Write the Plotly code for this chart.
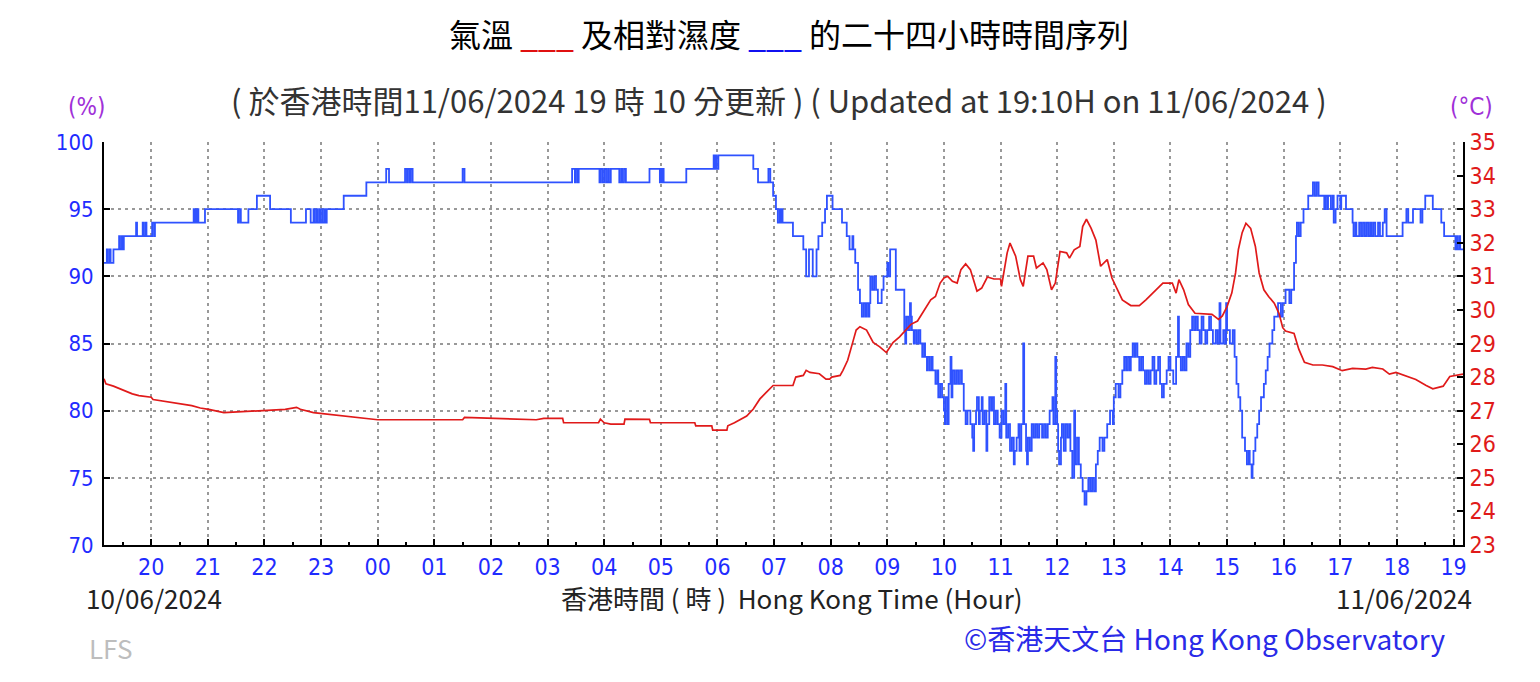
import plotly.graph_objects as go

# ---------------- data ----------------
hum_times = [
    "19:10", "19:13", "19:14", "19:16", "19:17", "19:20", "19:26", "19:27", "19:29", "19:30",
    "19:31", "19:44", "19:45", "19:51", "19:52", "19:54", "19:55", "20:01", "20:03", "20:04",
    "20:45", "20:46", "20:47", "20:48", "20:49", "20:50", "20:57", "21:32", "21:33", "21:35",
    "21:43", "21:52", "22:06", "22:28", "22:44", "22:49", "22:52", "22:53", "22:55", "22:56",
    "22:58", "22:59", "23:01", "23:02", "23:04", "23:05", "23:06", "23:24", "23:48", "00:09",
    "00:12", "00:29", "00:31", "00:32", "00:34", "00:35", "00:37", "01:30", "01:32", "03:26",
    "03:29", "03:30", "03:32", "03:33", "03:55", "03:56", "03:58", "04:00", "04:02", "04:04",
    "04:05", "04:07", "04:16", "04:18", "04:19", "04:21", "04:23", "04:48", "04:59", "05:00",
    "05:01", "05:02", "05:03", "05:27", "05:56", "05:57", "05:58", "05:59", "06:01", "06:38",
    "06:43", "06:54", "06:56", "06:59", "07:02", "07:04", "07:06", "07:07", "07:08", "07:09",
    "07:20", "07:31", "07:34", "07:37", "07:41", "07:45", "07:47", "07:51", "07:54", "07:56",
    "08:02", "08:12", "08:17", "08:20", "08:23", "08:24", "08:26", "08:29", "08:31", "08:33",
    "08:35", "08:37", "08:38", "08:40", "08:41", "08:42", "08:44", "08:46", "08:48", "08:50",
    "08:54", "08:56", "09:00", "09:01", "09:03", "09:09", "09:18", "09:19", "09:20", "09:22",
    "09:24", "09:25", "09:26", "09:28", "09:29", "09:31", "09:33", "09:35", "09:37", "09:39",
    "09:40", "09:42", "09:43", "09:45", "09:47", "09:48", "09:51", "09:53", "09:54", "09:56",
    "09:58", "10:00", "10:01", "10:02", "10:04", "10:05", "10:07", "10:08", "10:09", "10:11",
    "10:13", "10:15", "10:17", "10:19", "10:21", "10:23", "10:25", "10:28", "10:30", "10:31",
    "10:32", "10:34", "10:35", "10:37", "10:38", "10:40", "10:41", "10:43", "10:45", "10:46",
    "10:48", "10:50", "10:51", "10:53", "10:55", "10:57", "10:59", "11:01", "11:03", "11:05",
    "11:06", "11:08", "11:10", "11:12", "11:14", "11:15", "11:17", "11:19", "11:20", "11:22",
    "11:24", "11:25", "11:27", "11:28", "11:29", "11:31", "11:33", "11:35", "11:37", "11:39",
    "11:41", "11:44", "11:46", "11:48", "11:50", "11:52", "11:55", "11:56", "11:58", "11:59",
    "12:00", "12:01", "12:02", "12:04", "12:05", "12:07", "12:09", "12:11", "12:13", "12:14",
    "12:16", "12:18", "12:19", "12:21", "12:23", "12:25", "12:27", "12:29", "12:31", "12:33",
    "12:35", "12:37", "12:39", "12:41", "12:43", "12:45", "12:48", "12:50", "12:53", "12:56",
    "12:59", "13:00", "13:02", "13:05", "13:07", "13:09", "13:11", "13:13", "13:15", "13:17",
    "13:18", "13:20", "13:22", "13:23", "13:25", "13:27", "13:29", "13:31", "13:33", "13:35",
    "13:37", "13:39", "13:41", "13:43", "13:45", "13:47", "13:49", "13:51", "13:53", "13:56",
    "13:58", "14:00", "14:03", "14:06", "14:08", "14:09", "14:11", "14:13", "14:15", "14:17",
    "14:19", "14:21", "14:23", "14:25", "14:27", "14:29", "14:31", "14:33", "14:35", "14:37",
    "14:39", "14:41", "14:43", "14:45", "14:48", "14:50", "14:52", "14:53", "14:56", "14:58",
    "14:59", "15:00", "15:03", "15:06", "15:08", "15:10", "15:12", "15:14", "15:16", "15:19",
    "15:21", "15:23", "15:24", "15:26", "15:27", "15:28", "15:30", "15:32", "15:34", "15:36",
    "15:39", "15:41", "15:43", "15:45", "15:48", "15:50", "15:54", "15:57", "15:59", "16:02",
    "16:06", "16:08", "16:11", "16:13", "16:14", "16:16", "16:18", "16:21", "16:26", "16:31",
    "16:33", "16:35", "16:37", "16:43", "16:44", "16:46", "16:47", "16:50", "16:52", "16:53",
    "16:55", "16:57", "17:00", "17:01", "17:06", "17:13", "17:14", "17:16", "17:17", "17:20",
    "17:22", "17:24", "17:26", "17:28", "17:30", "17:32", "17:33", "17:35", "17:37", "17:40",
    "17:42", "17:45", "17:47", "17:49", "18:06", "18:10", "18:12", "18:17", "18:25", "18:27",
    "18:30", "18:38", "18:47", "18:50", "19:02", "19:03", "19:04", "19:06", "19:07", "19:10",
]
hum_values = [
    91, 92, 91, 92, 91, 92, 93, 92, 93, 92,
    93, 94, 93, 94, 93, 94, 93, 94, 93, 94,
    95, 94, 95, 94, 95, 94, 95, 94, 95, 94,
    95, 96, 95, 94, 95, 94, 95, 94, 95, 94,
    95, 94, 95, 94, 95, 94, 95, 96, 97, 98,
    97, 98, 97, 98, 97, 98, 97, 98, 97, 98,
    97, 98, 97, 98, 97, 98, 97, 98, 97, 98,
    97, 98, 97, 98, 97, 98, 97, 98, 97, 98,
    97, 98, 97, 98, 99, 98, 99, 98, 99, 98,
    97, 98, 97, 96, 95, 94, 95, 94, 95, 94,
    93, 92, 90, 92, 90, 92, 93, 94, 95, 96,
    95, 94, 93, 92, 93, 92, 91, 89, 88, 87,
    88, 87, 88, 87, 88, 90, 89, 90, 89, 88,
    89, 90, 91, 90, 92, 89, 86, 85, 87, 86,
    88, 87, 86, 85, 86, 85, 86, 85, 84, 85,
    84, 83, 84, 83, 84, 83, 82, 83, 81, 82,
    81, 80, 79, 81, 79, 82, 84, 81, 83, 82,
    83, 82, 83, 82, 80, 79, 80, 79, 78, 77,
    79, 80, 81, 79, 80, 81, 79, 80, 77, 79,
    81, 80, 81, 79, 80, 79, 78, 80, 79, 82,
    78, 79, 77, 78, 76, 77, 78, 79, 77, 79,
    85, 79, 77, 76, 78, 77, 79, 78, 79, 78,
    79, 78, 79, 78, 79, 80, 81, 79, 84, 80,
    79, 77, 76, 78, 79, 77, 79, 78, 79, 77,
    75, 80, 76, 78, 76, 75, 74, 73, 74, 75,
    74, 75, 74, 76, 77, 78, 77, 78, 79, 80,
    79, 81, 82, 81, 82, 83, 84, 83, 84, 83,
    84, 85, 84, 85, 84, 83, 84, 83, 82, 83,
    82, 83, 84, 82, 83, 84, 82, 81, 82, 83,
    84, 83, 82, 84, 87, 84, 83, 84, 83, 85,
    84, 86, 87, 86, 87, 86, 85, 87, 86, 85,
    86, 87, 86, 85, 86, 85, 88, 85, 86, 85,
    88, 86, 85, 86, 84, 82, 81, 80, 78, 77,
    76, 77, 76, 75, 76, 77, 78, 79, 80, 81,
    82, 83, 84, 85, 86, 87, 88, 87, 88, 89,
    88, 89, 91, 93, 94, 93, 94, 95, 96, 97,
    96, 97, 96, 95, 96, 95, 96, 95, 96, 94,
    95, 96, 95, 96, 95, 94, 93, 94, 93, 94,
    93, 94, 93, 94, 93, 94, 93, 94, 93, 94,
    93, 94, 95, 93, 94, 95, 94, 95, 94, 95,
    96, 95, 94, 93, 92, 93, 92, 93, 92, 92,
]

temp_times = [
    "19:10", "19:12", "19:20", "19:28", "19:40", "19:47", "20:00", "20:02", "20:29", "20:43",
    "20:52", "21:01", "21:17", "22:22", "22:34", "22:38", "22:52", "23:38", "00:00", "01:30",
    "01:32", "02:48", "02:56", "03:16", "03:17", "03:54", "03:56", "04:00", "04:07", "04:21",
    "04:22", "04:48", "04:49", "05:36", "05:37", "05:54", "05:55", "06:10", "06:11", "06:18",
    "06:31", "06:38", "06:45", "06:52", "06:59", "07:20", "07:23", "07:31", "07:34", "07:38",
    "07:48", "07:55", "07:59", "08:01", "08:10", "08:13", "08:18", "08:24", "08:27", "08:31",
    "08:38", "08:45", "08:52", "08:59", "09:06", "09:13", "09:20", "09:25", "09:32", "09:39",
    "09:46", "09:51", "09:56", "10:00", "10:04", "10:09", "10:14", "10:18", "10:23", "10:28",
    "10:35", "10:40", "10:46", "10:53", "11:00", "11:01", "11:07", "11:10", "11:16", "11:21",
    "11:24", "11:29", "11:35", "11:38", "11:45", "11:49", "11:54", "11:58", "12:03", "12:10",
    "12:13", "12:18", "12:24", "12:27", "12:31", "12:36", "12:41", "12:46", "12:53", "12:58",
    "13:04", "13:09", "13:18", "13:27", "13:34", "13:41", "13:52", "14:02", "14:06", "14:09",
    "14:14", "14:19", "14:26", "14:44", "14:51", "14:55", "15:00", "15:05", "15:09", "15:12",
    "15:16", "15:20", "15:25", "15:30", "15:34", "15:39", "15:44", "15:50", "15:55", "15:59",
    "16:02", "16:11", "16:16", "16:22", "16:31", "16:41", "16:52", "17:02", "17:13", "17:27",
    "17:34", "17:45", "17:52", "17:59", "18:10", "18:20", "18:31", "18:38", "18:49", "18:56",
    "19:10",
]
temp_values = [
    27.95, 27.80, 27.73, 27.63, 27.50, 27.45, 27.40, 27.33, 27.20, 27.15,
    27.08, 27.04, 26.94, 27.04, 27.10, 27.04, 26.94, 26.80, 26.73, 26.73,
    26.80, 26.73, 26.77, 26.77, 26.64, 26.64, 26.75, 26.64, 26.60, 26.60,
    26.75, 26.74, 26.64, 26.64, 26.55, 26.55, 26.42, 26.42, 26.55, 26.64,
    26.84, 27.05, 27.35, 27.55, 27.75, 27.75, 28.00, 28.05, 28.20, 28.14,
    28.10, 27.94, 27.94, 28.00, 28.05, 28.20, 28.50, 29.10, 29.40, 29.50,
    29.40, 29.03, 28.90, 28.73, 29.03, 29.20, 29.40, 29.57, 29.67, 30.00,
    30.30, 30.40, 30.80, 30.95, 31.00, 30.85, 30.80, 31.20, 31.37, 31.20,
    30.56, 30.65, 30.98, 30.92, 30.92, 30.70, 31.70, 31.99, 31.60, 30.90,
    30.70, 31.60, 31.60, 31.25, 31.40, 31.20, 30.60, 30.80, 31.74, 31.70,
    31.54, 31.79, 31.89, 32.48, 32.70, 32.43, 32.08, 31.30, 31.50, 30.95,
    30.60, 30.30, 30.13, 30.13, 30.30, 30.50, 30.80, 30.80, 30.50, 30.90,
    30.60, 30.16, 29.90, 29.87, 29.72, 29.82, 30.10, 30.50, 31.10, 31.80,
    32.30, 32.58, 32.43, 31.89, 31.10, 30.60, 30.40, 30.20, 29.90, 29.47,
    29.37, 29.30, 28.83, 28.44, 28.36, 28.36, 28.31, 28.19, 28.26, 28.24,
    28.29, 28.24, 28.09, 28.14, 28.04, 27.93, 27.75, 27.65, 27.73, 28.02,
    28.09,
]

hour_ticks_start = "2024-06-10 20:00"
x_range = ["2024-06-10 19:10", "2024-06-11 19:10"]

title_text = ('氣溫 <span style="color:#e01010">___</span> 及相對濕度 '
              '<span style="color:#1010f0">___</span> 的二十四小時時間序列')
subtitle_text = "( 於香港時間11/06/2024 19 時 10 分更新 ) ( Updated at 19:10H on 11/06/2024 )"
xaxis_title = "香港時間 ( 時 )  Hong Kong Time (Hour)"
date_left = "10/06/2024"
date_right = "11/06/2024"
credit_text = "©香港天文台 Hong Kong Observatory"
unit_left = "(%)"
unit_right = "(°C)"
code_text = "LFS"


def to_datetimes(times):
    out, day, prev = [], 10, None
    for t in times:
        h, m = map(int, t.split(":"))
        mins = h * 60 + m
        if prev is not None and mins < prev:
            day = 11
        prev = mins
        out.append(f"2024-06-{day:02d} {t}")
    return out


assert len(hum_times) == len(hum_values)
assert len(temp_times) == len(temp_values)

HUM_COLOR = "#2f52ff"
TEMP_COLOR = "#e01a1a"
TICK_FONT = "Liberation Sans Narrow, DejaVu Sans Condensed, Arial Narrow, sans-serif"
CJK_FONT = "Noto Sans CJK TC, Noto Sans, sans-serif"
GRID = "#999999"

fig = go.Figure()
fig.add_trace(go.Scatter(
    x=to_datetimes(hum_times), y=hum_values, mode="lines",
    line=dict(color=HUM_COLOR, width=1.8, shape="hv"), yaxis="y", name="RH",
))
fig.add_trace(go.Scatter(
    x=to_datetimes(temp_times), y=temp_values, mode="lines",
    line=dict(color=TEMP_COLOR, width=1.7), yaxis="y2", name="T",
))

L, R, T, B = 104, 1463, 142, 545
W, H = 1540, 682


def px(x):
    return (x - L) / (R - L)


def py(y):
    return (B - y) / (B - T)


fig.update_layout(
    width=W, height=H,
    margin=dict(l=L, r=W - R, t=T, b=H - B, pad=0),
    paper_bgcolor="white", plot_bgcolor="white",
    showlegend=False,
    xaxis=dict(
        type="date", range=x_range, tickformat="%H",
        tick0=hour_ticks_start, dtick=3600000,
        ticks="inside", ticklen=6, tickwidth=1.5, tickcolor="black",
        showgrid=True, gridcolor=GRID, gridwidth=1.5, griddash="3px,4px",
        showline=True, linecolor="black", linewidth=2,
        tickfont=dict(family=TICK_FONT, size=23, color="#1f2cff"),
        minor=dict(tick0=hour_ticks_start, dtick=1800000, ticks="inside",
                   ticklen=3, tickcolor="black", showgrid=False),
        zeroline=False,
    ),
    yaxis=dict(
        range=[70, 100], dtick=5, ticks="inside", ticklen=6, tickwidth=1.5,
        tickcolor="black", ticklabelstandoff=4,
        showgrid=True, gridcolor=GRID, gridwidth=1.5, griddash="3px,4px",
        showline=True, linecolor="black", linewidth=2,
        tickfont=dict(family=TICK_FONT, size=22, color="#1f2cff"),
        zeroline=False,
    ),
    yaxis2=dict(
        range=[23, 35], dtick=1, overlaying="y", side="right",
        ticks="inside", ticklen=6, tickwidth=1.5, tickcolor="black",
        showgrid=False, showline=True, linecolor="black", linewidth=2,
        tickfont=dict(family=TICK_FONT, size=23, color="#e01a1a"),
        zeroline=False,
    ),
)

ann = [
    dict(text=title_text, x=px(789), y=py(33), xanchor="center", yanchor="middle",
         font=dict(family=CJK_FONT, size=32, color="black")),
    dict(text=subtitle_text, x=px(779), y=py(100), xanchor="center", yanchor="middle",
         font=dict(family=CJK_FONT, size=31, color="#333333")),
    dict(text=unit_left, x=px(86), y=py(107), xanchor="center", yanchor="middle",
         font=dict(family=TICK_FONT, size=24, color="#a030d8")),
    dict(text=unit_right, x=px(1471), y=py(107), xanchor="center", yanchor="middle",
         font=dict(family=TICK_FONT, size=24, color="#a030d8")),
    dict(text=date_left, x=px(84), y=py(597), xanchor="left", yanchor="middle",
         font=dict(family=CJK_FONT, size=26, color="#222222")),
    dict(text=date_right, x=px(1474), y=py(597), xanchor="right", yanchor="middle",
         font=dict(family=CJK_FONT, size=26, color="#222222")),
    dict(text=xaxis_title, x=px(792), y=py(597), xanchor="center", yanchor="middle",
         font=dict(family=CJK_FONT, size=26, color="#222222")),
    dict(text=code_text, x=px(87), y=py(647), xanchor="left", yanchor="middle",
         font=dict(family=CJK_FONT, size=26, color="#bdbdbd")),
    dict(text=credit_text, x=px(1448), y=py(638), xanchor="right", yanchor="middle",
         font=dict(family=CJK_FONT, size=28, color="#2a2ae8")),
]
for a in ann:
    a.update(xref="paper", yref="paper", showarrow=False)
fig.update_layout(annotations=ann)

fig.write_html("out.html", config={"displayModeBar": False},
               post_script="document.body.style.margin='0px';")
